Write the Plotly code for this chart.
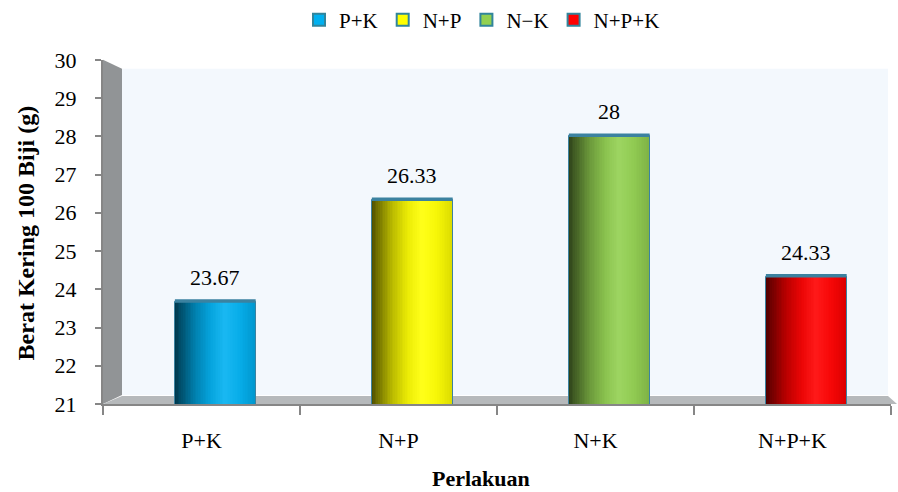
import plotly.graph_objects as go

# ---- data -------------------------------------------------------------
categories = ["P+K", "N+P", "N+K", "N+P+K"]
legend_names = ["P+K", "N+P", "N−K", "N+P+K"]
values = [23.67, 26.33, 28, 24.33]
y_ticks = [21, 22, 23, 24, 25, 26, 27, 28, 29, 30]
bar_colors = ["#00b0f0", "#ffff00", "#92d050", "#ff0000"]

# ---- layout constants -------------------------------------------------
W, H = 898, 492
M_L, M_R, M_T, M_B = 103, 7, 57, 88
PW, PH = W - M_L - M_R, H - M_T - M_B
Y_MIN, Y_MAX = y_ticks[0], y_ticks[-1]
FONT = "Liberation Serif"
TXT = "#000000"
AXIS_GREY = "#868686"
OUTLINE = "#3b82a0"

BAR_W = 0.41      # cylinder width, in category units
DEPTH_X = 0.07    # perspective shift of the series plane
N_STRIPS = 48     # vertical strips used to shade each cylinder


def px_to_paper(px, py):
    return (px - M_L) / PW, (M_T + PH - py) / PH


def hex_rgb(h):
    h = h.lstrip("#")
    return tuple(int(h[i:i + 2], 16) for i in (0, 2, 4))


# brightness / highlight profile across a cylinder (left -> right)
PROFILE = [(0.00, 0.30, 0.00), (0.08, 0.45, 0.00), (0.25, 0.72, 0.00),
           (0.45, 0.92, 0.02), (0.62, 1.00, 0.10), (0.80, 0.97, 0.03),
           (1.00, 0.86, 0.00)]


def shade_at(t):
    for (t0, f0, h0), (t1, f1, h1) in zip(PROFILE, PROFILE[1:]):
        if t0 <= t <= t1:
            a = (t - t0) / (t1 - t0)
            return f0 + a * (f1 - f0), h0 + a * (h1 - h0)
    return PROFILE[-1][1], PROFILE[-1][2]


def shaded(hex_color, t):
    f, hl = shade_at(t)
    out = []
    for c in hex_rgb(hex_color):
        c = c * f
        c = c + (255 - c) * hl
        out.append(int(max(0, min(255, round(c)))))
    return "rgb({},{},{})".format(*out)


fig = go.Figure()

# shaded cylinder bodies built from narrow overlaid bars
strip_w = BAR_W / N_STRIPS
for k in range(N_STRIPS):
    t = (k + 0.5) / N_STRIPS
    fig.add_trace(go.Bar(
        x=categories, y=values,
        width=strip_w * 1.15,
        offset=DEPTH_X - BAR_W / 2 + k * strip_w,
        marker=dict(color=[shaded(c, t) for c in bar_colors], line=dict(width=0)),
        showlegend=False, hoverinfo="skip",
    ))

# cylinder outlines
fig.add_trace(go.Bar(
    x=categories, y=values,
    width=BAR_W, offset=DEPTH_X - BAR_W / 2,
    marker=dict(color="rgba(0,0,0,0)", line=dict(color=OUTLINE, width=1)),
    showlegend=False,
    hovertemplate="%{x}: %{y}<extra></extra>",
))

# legend entries
for name, col in zip(legend_names, bar_colors):
    fig.add_trace(go.Bar(
        x=[None], y=[None], name=name,
        marker=dict(color=col, line=dict(color="#31859c", width=2)),
    ))

shapes = []
# left side wall
p = [px_to_paper(103, 57), px_to_paper(122, 66), px_to_paper(122, 395), px_to_paper(103, 404)]
shapes.append(dict(type="path", xref="paper", yref="paper", layer="below",
                   path="M {} {} L {} {} L {} {} L {} {} Z".format(*[v for pt in p for v in pt]),
                   fillcolor="#919496", line=dict(width=0)))
# back wall
x0, y0 = px_to_paper(122, 395)
x1, y1 = px_to_paper(888, 66)
shapes.append(dict(type="rect", xref="paper", yref="paper", layer="below",
                   x0=x0, y0=y0, x1=x1, y1=y1,
                   fillcolor="#f3f8fd", line=dict(width=0)))
# floor
p = [px_to_paper(103, 404), px_to_paper(122, 396), px_to_paper(888, 396), px_to_paper(897, 404)]
shapes.append(dict(type="path", xref="paper", yref="paper", layer="below",
                   path="M {} {} L {} {} L {} {} L {} {} Z".format(*[v for pt in p for v in pt]),
                   fillcolor="#b6b9bb", line=dict(width=0)))

# cylinder top rims
for i, v in enumerate(values):
    cx = i + DEPTH_X
    shapes.append(dict(type="rect", xref="x", yref="y", layer="above",
                       x0=cx - BAR_W / 2, x1=cx + BAR_W / 2,
                       y0=v - 0.02, y1=v + 0.07,
                       fillcolor=OUTLINE, line=dict(width=0)))

annotations = []
# value labels
for i, v in enumerate(values):
    annotations.append(dict(x=i + DEPTH_X, y=v, xref="x", yref="y",
                            text=f"{v:g}", showarrow=False,
                            yanchor="bottom", yshift=10,
                            font=dict(family=FONT, size=22, color=TXT)))
# axis titles (placed in plot-paper coordinates)
annotations.append(dict(x=(481 - M_L) / PW, y=(M_T + PH - 479) / PH,
                        xref="paper", yref="paper",
                        text="<b>Perlakuan</b>", showarrow=False,
                        xanchor="center", yanchor="middle",
                        font=dict(family=FONT, size=22, color=TXT)))
annotations.append(dict(x=(26 - M_L) / PW, y=(M_T + PH - 232) / PH,
                        xref="paper", yref="paper",
                        text="<b>Berat Kering 100 Biji (g)</b>", showarrow=False,
                        textangle=-90, xanchor="center", yanchor="middle",
                        font=dict(family=FONT, size=24, color=TXT)))

fig.update_layout(
    width=W, height=H,
    margin=dict(l=M_L, r=M_R, t=M_T, b=M_B),
    paper_bgcolor="#ffffff", plot_bgcolor="rgba(0,0,0,0)",
    barmode="overlay", bargap=0,
    shapes=shapes, annotations=annotations,
    legend=dict(orientation="h", xref="container", yref="container",
                x=482 / W, y=1 - 20 / H, xanchor="center", yanchor="middle",
                font=dict(family=FONT, size=21, color=TXT),
                itemwidth=30,
                bgcolor="rgba(0,0,0,0)", traceorder="normal"),
    xaxis=dict(type="category", categoryorder="array", categoryarray=categories,
               range=[-0.5, 3.5], showgrid=False, zeroline=False,
               showline=True, linecolor=AXIS_GREY, linewidth=2,
               ticks="outside", tickson="boundaries", ticklen=9,
               tickwidth=2, tickcolor=AXIS_GREY, ticklabelstandoff=16,
               tickfont=dict(family=FONT, size=22, color=TXT)),
    yaxis=dict(range=[Y_MIN, Y_MAX], tickvals=y_ticks, showgrid=False,
               zeroline=False, showline=True, linecolor=AXIS_GREY, linewidth=2,
               ticks="outside", ticklen=6, tickwidth=2, tickcolor=AXIS_GREY,
               ticklabelstandoff=14,
               tickfont=dict(family=FONT, size=22, color=TXT)),
)

fig.write_html("out.html")
